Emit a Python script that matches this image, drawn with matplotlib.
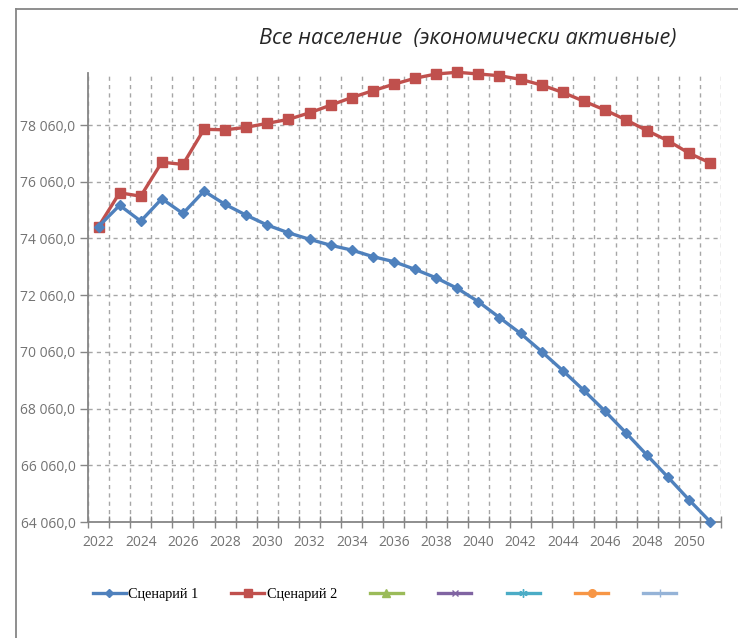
import numpy as np
import matplotlib.pyplot as plt
from matplotlib.lines import Line2D
from matplotlib.ticker import FixedLocator, FuncFormatter

# years and the two scenario series (thousand people)
years = list(range(2022, 2052))
scen1 = [74480, 75230, 74670, 75460, 74940, 75730, 75260, 74880, 74530, 74260,
         74030, 73820, 73650, 73420, 73240, 72970, 72670, 72300, 71830, 71270,
         70710, 70070, 69400, 68700, 67970, 67200, 66410, 65630, 64830, 64060]
scen2 = [74480, 75670, 75550, 76750, 76670, 77910, 77890, 77980, 78120, 78260,
         78490, 78760, 79030, 79270, 79500, 79710, 79860, 79920, 79860, 79800,
         79670, 79470, 79210, 78900, 78590, 78240, 77860, 77500, 77060, 76720]
labels = ["Сценарий 1", "Сценарий 2"]
title = "Все население  (экономически активные)"

y_ticks = list(range(64060, 78061, 2000))
x_labels = list(range(2022, 2051, 2))

grid_col = "#a6a6a6"
axis_col = "#868686"
tick_col = "#737373"

fig = plt.figure(figsize=(7.38, 6.38), dpi=100)
ax = fig.add_axes([0.1192, 0.1818, 0.8578, 0.7042])

ax.plot(years, scen1, color="#4f81bd", lw=2.4, marker="D", ms=5,
        clip_on=False, zorder=4)
ax.plot(years, scen2, color="#c0504d", lw=2.4, marker="s", ms=6.5,
        clip_on=False, zorder=3)

ax.set_xlim(years[0] - 0.5, years[-1] + 0.5)
ax.set_ylim(64060, 79904)

# category axis: ticks between categories, labels every second year
ax.xaxis.set_major_locator(FixedLocator(x_labels))
ax.xaxis.set_minor_locator(FixedLocator(np.arange(years[0] - 0.5, years[-1] + 0.6, 1)))
ax.tick_params(axis="x", which="major", length=0, pad=9, labelsize=10, colors=tick_col)
ax.tick_params(axis="x", which="minor", length=8, direction="inout", color=axis_col, width=1)

ax.yaxis.set_major_locator(FixedLocator(y_ticks))
ax.yaxis.set_major_formatter(FuncFormatter(
    lambda v, p: "{:,.1f}".format(v).replace(",", " ").replace(".", ",")))
ax.tick_params(axis="y", length=6, color=axis_col, width=1, pad=3,
               labelsize=10, labelcolor=tick_col)

for lab in ax.get_xticklabels() + ax.get_yticklabels():
    lab.set_fontfamily("Open Sans")

ax.grid(True, axis="y", which="major", color=grid_col, ls=(0, (3, 3)), lw=1)
ax.grid(True, axis="x", which="minor", color=grid_col, ls=(0, (3, 3)), lw=1)
ax.set_axisbelow(True)

for s in ["top", "right"]:
    ax.spines[s].set_visible(False)
for s in ["left", "bottom"]:
    ax.spines[s].set_color(axis_col)
    ax.spines[s].set_linewidth(1.3)

fig.text(0.634, 0.94, title, ha="center", va="center", fontsize=15.6,
         style="italic", family="Open Sans", color="#262626")

# outer chart frame (left and top edges)
fig.add_artist(Line2D([15.7 / 738, 15.7 / 738], [0, 1 - 9 / 638],
                      color=axis_col, lw=1.3))
fig.add_artist(Line2D([15.7 / 738, 1], [1 - 9 / 638, 1 - 9 / 638],
                      color=axis_col, lw=1.3))

# legend, including the empty series slots
handles = [
    Line2D([], [], color="#4f81bd", lw=2.4, marker="D", ms=4),
    Line2D([], [], color="#c0504d", lw=2.4, marker="s", ms=5.5),
    Line2D([], [], color="#9bbb59", lw=2.4, marker="^", ms=5.5),
    Line2D([], [], color="#8064a2", lw=2.4, marker="x", ms=5, mew=1),
    Line2D([], [], color="#4bacc6", lw=2.4, marker=(6, 2, 0), ms=6, mew=1),
    Line2D([], [], color="#f79646", lw=2.4, marker="o", ms=5.5),
    Line2D([], [], color="#95b3d7", lw=2.4, marker="+", ms=6, mew=1),
]
leg_labels = labels + [""] * 5
fig.legend(handles, leg_labels, loc="center left",
           bbox_to_anchor=(92.7 / 738, 1 - 594 / 638), ncol=7, frameon=False,
           borderpad=0, borderaxespad=0, handlelength=2.3, handletextpad=0.2,
           columnspacing=2.28, numpoints=1,
           prop={"family": "Liberation Serif", "size": 10.3})

fig.savefig("out.png", dpi=100)
